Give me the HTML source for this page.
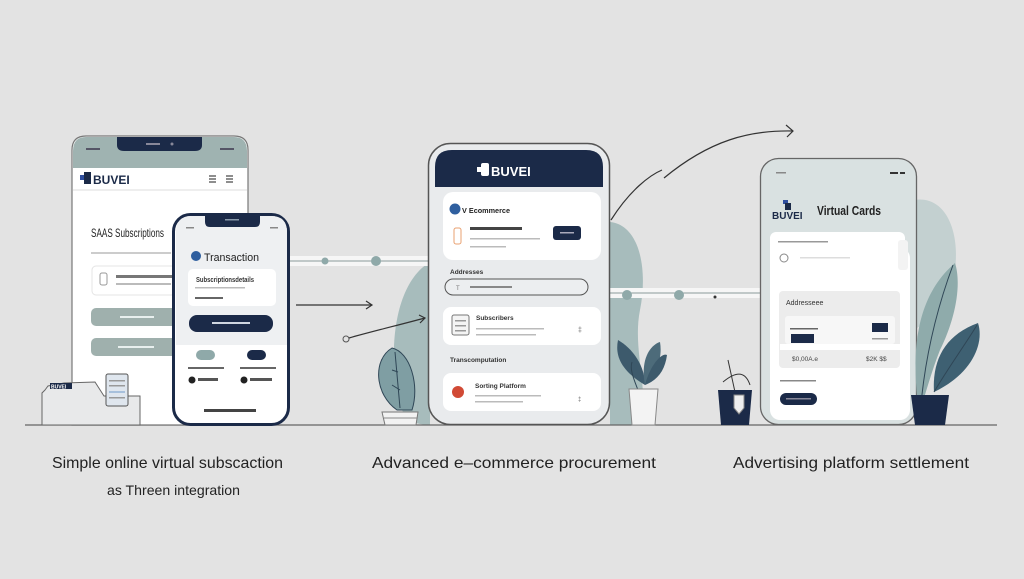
<!DOCTYPE html>
<html><head><meta charset="utf-8">
<style>
html,body{margin:0;padding:0;background:#e3e3e3;}
svg{display:block;}
text{font-family:"Liberation Sans",sans-serif;}
</style></head>
<body>
<svg width="1024" height="579" viewBox="0 0 1024 579" xmlns="http://www.w3.org/2000/svg">
<rect width="1024" height="579" fill="#e3e3e3"/>

<!-- blobs -->
<path d="M430 262 C400 280 390 330 395 380 C398 410 405 425 430 425 Z" fill="#a7bcbc"/>
<path d="M610 222 C640 225 648 270 640 310 C632 350 650 390 640 425 L610 425 Z" fill="#a7bcbc"/>
<path d="M914 200 C945 195 960 230 955 270 C950 300 930 320 914 330 Z" fill="#c3d0d0"/>

<!-- connector bars -->
<rect x="290" y="256" width="140" height="10" fill="#f6f6f6"/>
<line x1="290" y1="261" x2="430" y2="261" stroke="#8a9a9a" stroke-width="1"/>
<circle cx="325" cy="261" r="3.5" fill="#8fa9a9"/>
<circle cx="376" cy="261" r="5" fill="#8fa9a9"/>
<rect x="610" y="288" width="150" height="10" fill="#f6f6f6"/>
<line x1="610" y1="293" x2="760" y2="293" stroke="#8a9a9a" stroke-width="1"/>
<circle cx="627" cy="295" r="5" fill="#8fa9a9"/>
<circle cx="679" cy="295" r="5" fill="#8fa9a9"/>
<circle cx="715" cy="297" r="1.5" fill="#333"/>
<!-- arrows -->
<path d="M296 305 L371 305" stroke="#333" stroke-width="1.2" fill="none"/>
<path d="M366 301 L372 305 L366 309" stroke="#333" stroke-width="1.2" fill="none"/>
<circle cx="346" cy="339" r="3" fill="none" stroke="#555" stroke-width="1"/>
<path d="M349 338 C370 332 395 326 425 318" stroke="#333" stroke-width="1.2" fill="none"/>
<path d="M419 315 L425 318 L420 323" stroke="#333" stroke-width="1.2" fill="none"/>
<path d="M611 220 C630 190 650 175 662 170" stroke="#333" stroke-width="1.2" fill="none"/>
<path d="M664 178 C710 140 750 130 793 131" stroke="#333" stroke-width="1.2" fill="none"/>
<path d="M786 125 L793 131 L787 137" stroke="#333" stroke-width="1.2" fill="none"/>

<!-- ground -->
<line x1="25" y1="425" x2="997" y2="425" stroke="#666" stroke-width="1.2"/>

<!-- PHONE 1 -->
<path d="M72 425 L72 150 Q72 136 86 136 L234 136 Q248 136 248 150 L248 425 Z" fill="#fff" stroke="#777" stroke-width="1.2"/>
<path d="M73 168 L73 151 Q73 137 86 137 L234 137 Q247 137 247 151 L247 168 Z" fill="#9fb3b1"/>
<path d="M117 137 L202 137 L202 145 Q202 151 195 151 L124 151 Q117 151 117 145 Z" fill="#1b2a48"/>
<rect x="146" y="143" width="14" height="2" fill="#889"/>
<circle cx="172" cy="144" r="1.5" fill="#889"/>
<rect x="86" y="148" width="14" height="2" fill="#556"/>
<rect x="220" y="148" width="14" height="2" fill="#556"/>
<rect x="73" y="168" width="174" height="22" fill="#fff"/>
<rect x="73" y="189" width="174" height="2" fill="#eee"/>
<rect x="80" y="175" width="6" height="5" fill="#2f4fa0"/>
<rect x="84" y="172" width="7" height="12" fill="#1b2a48"/>
<text x="93" y="184" font-size="12" font-weight="bold" fill="#1b2a48">BUVEI</text>
<g stroke="#444" stroke-width="1.2"><line x1="209" y1="176" x2="216" y2="176"/><line x1="209" y1="179" x2="216" y2="179"/><line x1="209" y1="182" x2="216" y2="182"/><line x1="226" y1="176" x2="233" y2="176"/><line x1="226" y1="179" x2="233" y2="179"/><line x1="226" y1="182" x2="233" y2="182"/></g>
<text x="91" y="237" font-size="12" fill="#222" textLength="73" lengthAdjust="spacingAndGlyphs">SAAS Subscriptions</text>
<rect x="91" y="252" width="80" height="2" fill="#ccc"/>
<rect x="92" y="266" width="90" height="29" rx="4" fill="#fff" stroke="#e4e4e4"/>
<rect x="100" y="273" width="7" height="12" rx="2" fill="none" stroke="#999"/>
<rect x="116" y="275" width="58" height="3" fill="#777"/>
<rect x="116" y="283" width="55" height="2" fill="#bbb"/>
<rect x="91" y="308" width="90" height="18" rx="5" fill="#9fb0ad"/>
<rect x="120" y="316" width="34" height="2" fill="#e8efee"/>
<rect x="91" y="338" width="90" height="18" rx="5" fill="#9fb0ad"/>
<rect x="118" y="346" width="36" height="2" fill="#e8efee"/>
<!-- boxes left -->
<path d="M45 390 L48 386 L64 383 L95 382 L104 396 L140 396 L140 425 L42 425 L42 393 Z" fill="#e8e9ea" stroke="#666" stroke-width="1"/>
<rect x="50" y="383" width="22" height="6" fill="#1b2a48"/>
<text x="51" y="388.5" font-size="5" fill="#fff" font-weight="bold">BUVEI</text>
<rect x="106" y="374" width="22" height="32" rx="2" fill="#dfe6ee" stroke="#555" stroke-width="1"/>
<rect x="109" y="380" width="16" height="1.5" fill="#999"/><rect x="109" y="385" width="16" height="1.5" fill="#999"/><rect x="109" y="391" width="16" height="2" fill="#a7c0dc"/><rect x="109" y="397" width="16" height="1.5" fill="#999"/>

<!-- PHONE 2 -->
<rect x="173.5" y="214.5" width="115" height="210" rx="17" fill="#fff" stroke="#1b2a48" stroke-width="3"/>
<path d="M176 345 L176 232 Q176 216 192 216 L271 216 Q287 216 287 232 L287 345 Z" fill="#eef0f2"/>
<path d="M205 216 L260 216 L260 222 Q260 227 255 227 L210 227 Q205 227 205 222 Z" fill="#1b2a48"/>
<rect x="225" y="219" width="14" height="1.5" fill="#8899aa"/>
<rect x="186" y="227" width="8" height="1.5" fill="#888"/><rect x="270" y="227" width="8" height="1.5" fill="#888"/>
<circle cx="196" cy="256" r="5" fill="#2f5f9f"/>
<text x="204" y="261" font-size="11" fill="#222" textLength="55" lengthAdjust="spacingAndGlyphs">Transaction</text>
<rect x="188" y="269" width="88" height="37" rx="5" fill="#fff"/>
<text x="196" y="282" font-size="7" font-weight="bold" fill="#333" textLength="58" lengthAdjust="spacingAndGlyphs">Subscriptionsdetails</text>
<rect x="195" y="287" width="50" height="1.5" fill="#bbb"/>
<rect x="195" y="297" width="28" height="2" fill="#666"/>
<rect x="189" y="315" width="84" height="17" rx="8" fill="#1b2a48"/>
<rect x="212" y="322" width="38" height="2" fill="#cfd6e0"/>
<rect x="196" y="350" width="19" height="10" rx="5" fill="#8fa9a9"/>
<rect x="247" y="350" width="19" height="10" rx="5" fill="#1b2a48"/>
<rect x="188" y="367" width="36" height="2" fill="#666"/>
<rect x="240" y="367" width="36" height="2" fill="#666"/>
<circle cx="192" cy="380" r="3.5" fill="#222"/><rect x="198" y="378" width="20" height="3" fill="#555"/>
<circle cx="244" cy="380" r="3.5" fill="#222"/><rect x="250" y="378" width="22" height="3" fill="#555"/>
<rect x="204" y="409" width="52" height="3" fill="#444"/>

<!-- plant near phone 3 left -->
<path d="M397 410 C375 395 372 360 392 348 C410 352 420 385 412 410 Z" fill="#7f9ea3" stroke="#2f4656" stroke-width="1"/>
<path d="M395 352 L400 408 M392 370 L398 372 M392 385 L400 390" stroke="#2f4656" stroke-width="1" fill="none"/>
<path d="M382 412 L418 412 L416 425 L385 425 Z" fill="#f2f2f2" stroke="#777" stroke-width="1"/>
<line x1="384" y1="418" x2="417" y2="418" stroke="#888"/>

<!-- PHONE 3 -->
<rect x="428.5" y="143.5" width="181" height="281" rx="22" fill="#e9ebed" stroke="#555" stroke-width="1.5"/>
<path d="M435 187 L435 167 Q435 150 452 150 L586 150 Q603 150 603 167 L603 187 Z" fill="#1b2a48"/>
<rect x="477" y="167" width="6" height="5" fill="#fff"/>
<rect x="481" y="163" width="8" height="13" rx="2" fill="#fff"/>
<text x="491" y="176" font-size="13" font-weight="bold" fill="#fff">BUVEI</text>
<rect x="443" y="192" width="158" height="68" rx="10" fill="#fff"/>
<circle cx="455" cy="209" r="5.5" fill="#2f5f9f"/>
<text x="462" y="213" font-size="7.5" font-weight="bold" fill="#222" textLength="48" lengthAdjust="spacingAndGlyphs">V Ecommerce</text>
<rect x="454" y="228" width="7" height="16" rx="2" fill="#fff" stroke="#e8a070"/>
<rect x="470" y="227" width="52" height="3" fill="#444"/>
<rect x="470" y="238" width="70" height="1.5" fill="#bbb"/>
<rect x="470" y="246" width="36" height="1.5" fill="#bbb"/>
<rect x="553" y="226" width="28" height="14" rx="3" fill="#1b2a48"/>
<rect x="560" y="232" width="14" height="1.5" fill="#aab"/>
<text x="450" y="274" font-size="6.5" font-weight="bold" fill="#333">Addresses</text>
<rect x="445" y="279" width="143" height="16" rx="8" fill="#eceef0" stroke="#555" stroke-width="1"/>
<text x="456" y="290" font-size="6" fill="#777">T</text>
<rect x="470" y="286" width="42" height="2" fill="#888"/>
<rect x="443" y="307" width="158" height="38" rx="8" fill="#fff"/>
<rect x="452" y="315" width="17" height="20" rx="2" fill="#f4f4f4" stroke="#777"/>
<rect x="455" y="320" width="11" height="1.5" fill="#999"/><rect x="455" y="325" width="11" height="1.5" fill="#999"/><rect x="455" y="330" width="11" height="1.5" fill="#999"/>
<text x="476" y="320" font-size="6.5" font-weight="bold" fill="#333">Subscribers</text>
<rect x="476" y="328" width="68" height="1.5" fill="#bbb"/>
<rect x="476" y="334" width="60" height="1.5" fill="#bbb"/>
<text x="578" y="332" font-size="7" fill="#666">‡</text>
<text x="450" y="362" font-size="6.5" font-weight="bold" fill="#333">Transcomputation</text>
<rect x="443" y="373" width="158" height="38" rx="8" fill="#fff"/>
<circle cx="458" cy="392" r="6" fill="#d14a35"/>
<text x="475" y="388" font-size="6.5" font-weight="bold" fill="#333">Sorting Platform</text>
<rect x="475" y="395" width="66" height="1.5" fill="#bbb"/>
<rect x="475" y="401" width="48" height="1.5" fill="#bbb"/>
<text x="578" y="401" font-size="6" fill="#666">‡</text>

<!-- plant right of phone 3 -->
<path d="M645 385 C620 370 615 355 618 340 C635 350 645 368 645 385 Z" fill="#3d5a6c"/>
<path d="M645 385 C640 360 650 345 660 342 C663 360 655 375 645 385 Z" fill="#4d6b7a"/>
<path d="M645 385 C650 365 662 352 667 355 C665 370 658 380 645 385 Z" fill="#3d5a6c"/>
<path d="M638 390 C632 375 630 368 632 362" stroke="#2f4656" fill="none"/>
<path d="M629 389 L658 389 L655 425 L632 425 Z" fill="#f3f3f3" stroke="#888" stroke-width="1"/>

<!-- pot with shield -->
<line x1="728" y1="360" x2="735" y2="392" stroke="#333" stroke-width="1"/>
<path d="M723 382 C735 372 745 370 750 385" stroke="#333" stroke-width="1" fill="none"/>
<path d="M718 390 L752 390 L749 425 L721 425 Z" fill="#1b2a48"/>
<path d="M734 395 L744 395 L744 408 L739 414 L734 408 Z" fill="#eee" stroke="#888"/>

<!-- PHONE 4 -->
<rect x="760.5" y="158.5" width="156" height="266" rx="18" fill="#d9e1e1" stroke="#666" stroke-width="1.3"/>
<rect x="770" y="248" width="140" height="172" rx="10" fill="#fff"/>
<rect x="770" y="232" width="135" height="40" rx="6" fill="#fff"/>
<rect x="898" y="240" width="10" height="30" rx="3" fill="#f3f3f3"/>
<rect x="776" y="172" width="10" height="1.5" fill="#888"/>
<rect x="890" y="172" width="8" height="2" fill="#333"/><rect x="900" y="172" width="5" height="2" fill="#333"/>
<rect x="783" y="200" width="5" height="4" fill="#2f4fa0"/>
<rect x="785" y="203" width="6" height="7" fill="#1b2a48"/>
<text x="772" y="219" font-size="10" font-weight="bold" fill="#1b2a48">BUVEI</text>
<text x="817" y="215" font-size="12.5" font-weight="bold" fill="#222" textLength="64" lengthAdjust="spacingAndGlyphs">Virtual Cards</text>
<rect x="778" y="241" width="50" height="1.5" fill="#999"/>
<circle cx="784" cy="258" r="4" fill="none" stroke="#888"/>
<rect x="800" y="257" width="50" height="1.5" fill="#ddd"/>
<rect x="779" y="291" width="121" height="77" rx="4" fill="#ececec"/>
<text x="786" y="305" font-size="7" fill="#333">Addresseee</text>
<rect x="785" y="316" width="110" height="28" rx="3" fill="#f7f7f7"/>
<rect x="790" y="328" width="28" height="1.5" fill="#666"/>
<rect x="791" y="334" width="23" height="9" fill="#1b2a48"/>
<rect x="872" y="323" width="16" height="9" fill="#1b2a48"/>
<rect x="872" y="338" width="16" height="1.5" fill="#999"/>
<rect x="780" y="344" width="120" height="6" fill="#fff"/>
<text x="792" y="361" font-size="6.5" fill="#444">$0,00A.e</text>
<text x="866" y="361" font-size="6.5" fill="#444">$2K $$</text>
<rect x="780" y="380" width="36" height="1.5" fill="#888"/>
<rect x="780" y="393" width="37" height="12" rx="6" fill="#1b2a48"/>
<rect x="786" y="398" width="25" height="1.5" fill="#889"/>

<!-- right plant -->
<path d="M919 415 C912 360 912 300 955 263 C962 285 955 320 940 350 C932 370 925 395 919 415 Z" fill="#8fabab"/>
<path d="M920 415 C925 350 940 300 953 265" stroke="#2f4656" fill="none"/>
<path d="M934 392 C932 360 945 335 978 323 C985 345 970 375 934 392 Z" fill="#3e6072"/>
<path d="M934 392 C950 365 965 345 977 325" stroke="#2f4656" fill="none"/>
<path d="M911 395 L949 395 L945 425 L915 425 Z" fill="#1b2a48"/>

<!-- captions -->
<text x="52" y="468" font-size="16" fill="#222" textLength="231" lengthAdjust="spacingAndGlyphs">Simple online virtual subscaction</text>
<text x="107" y="495" font-size="14" fill="#222" textLength="133" lengthAdjust="spacingAndGlyphs">as Threen integration</text>
<text x="372" y="468" font-size="16" fill="#222" textLength="284" lengthAdjust="spacingAndGlyphs">Advanced e–commerce  procurement</text>
<text x="733" y="468" font-size="16" fill="#222" textLength="236" lengthAdjust="spacingAndGlyphs">Advertising platform settlement</text>
</svg>
</body></html>
